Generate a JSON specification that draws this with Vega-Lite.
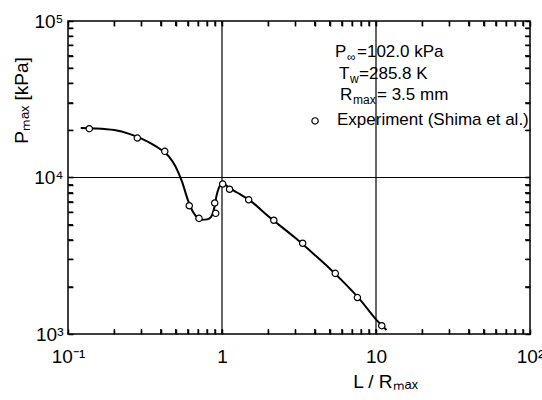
{
  "$schema": "https://vega.github.io/schema/vega-lite/v6.json",
  "width": 462,
  "height": 313,
  "autosize": {"type": "none"},
  "padding": {"left": 68, "top": 21, "right": 12, "bottom": 66},
  "config": {
    "font": "Liberation Sans",
    "view": {"stroke": "black", "strokeWidth": 1.5},
    "axis": {
      "domain": false, "tickColor": "black", "tickWidth": 1.5, "tickSize": -5,
      "labelColor": "black", "labelFontSize": 19,
      "titleColor": "black", "titleFontSize": 19, "titleFontWeight": "normal",
      "labelOverlap": false, "labelFlush": false, "grid": false
    }
  },
  "datasets": {
    "curve": [
      {"x": 0.121, "y": 20700}, {"x": 0.15, "y": 20600}, {"x": 0.2, "y": 20100},
      {"x": 0.25, "y": 19000}, {"x": 0.3, "y": 17700}, {"x": 0.35, "y": 16400},
      {"x": 0.4, "y": 15100}, {"x": 0.45, "y": 13700}, {"x": 0.5, "y": 11700},
      {"x": 0.55, "y": 9400}, {"x": 0.6, "y": 7200}, {"x": 0.65, "y": 6000},
      {"x": 0.7, "y": 5500}, {"x": 0.75, "y": 5380}, {"x": 0.8, "y": 5400},
      {"x": 0.85, "y": 5600}, {"x": 0.88, "y": 6100}, {"x": 0.9, "y": 6700},
      {"x": 0.92, "y": 7600}, {"x": 0.95, "y": 8500}, {"x": 0.98, "y": 9000},
      {"x": 1.01, "y": 9200}, {"x": 1.1, "y": 8650}, {"x": 1.3, "y": 7850},
      {"x": 1.5, "y": 7200}, {"x": 2.0, "y": 5650}, {"x": 3.0, "y": 4100},
      {"x": 4.0, "y": 3200}, {"x": 5.0, "y": 2620}, {"x": 6.0, "y": 2200},
      {"x": 8.0, "y": 1630}, {"x": 10.0, "y": 1240}, {"x": 11.7, "y": 1060}
    ],
    "exp": [
      {"x": 0.1375, "y": 20500}, {"x": 0.282, "y": 17870}, {"x": 0.425, "y": 14700},
      {"x": 0.613, "y": 6600}, {"x": 0.709, "y": 5480}, {"x": 0.897, "y": 6870},
      {"x": 0.91, "y": 5900}, {"x": 1.01, "y": 9090}, {"x": 1.12, "y": 8410},
      {"x": 1.49, "y": 7210}, {"x": 2.17, "y": 5330}, {"x": 3.34, "y": 3800},
      {"x": 5.44, "y": 2440}, {"x": 7.57, "y": 1710}, {"x": 10.9, "y": 1130}
    ],
    "xt": [
      {"x": 0.2, "y": 1000}, {"x": 0.3, "y": 1000}, {"x": 0.4, "y": 1000}, {"x": 0.5, "y": 1000},
      {"x": 0.6, "y": 1000}, {"x": 0.7, "y": 1000}, {"x": 0.8, "y": 1000}, {"x": 0.9, "y": 1000},
      {"x": 1, "y": 1000}, {"x": 2, "y": 1000}, {"x": 3, "y": 1000}, {"x": 4, "y": 1000},
      {"x": 5, "y": 1000}, {"x": 6, "y": 1000}, {"x": 7, "y": 1000}, {"x": 8, "y": 1000},
      {"x": 9, "y": 1000}, {"x": 10, "y": 1000}, {"x": 20, "y": 1000}, {"x": 30, "y": 1000},
      {"x": 40, "y": 1000}, {"x": 50, "y": 1000}, {"x": 60, "y": 1000}, {"x": 70, "y": 1000},
      {"x": 80, "y": 1000}, {"x": 90, "y": 1000},
      {"x": 0.2, "y": 100000}, {"x": 0.3, "y": 100000}, {"x": 0.4, "y": 100000}, {"x": 0.5, "y": 100000},
      {"x": 0.6, "y": 100000}, {"x": 0.7, "y": 100000}, {"x": 0.8, "y": 100000}, {"x": 0.9, "y": 100000},
      {"x": 1, "y": 100000}, {"x": 2, "y": 100000}, {"x": 3, "y": 100000}, {"x": 4, "y": 100000},
      {"x": 5, "y": 100000}, {"x": 6, "y": 100000}, {"x": 7, "y": 100000}, {"x": 8, "y": 100000},
      {"x": 9, "y": 100000}, {"x": 10, "y": 100000}, {"x": 20, "y": 100000}, {"x": 30, "y": 100000},
      {"x": 40, "y": 100000}, {"x": 50, "y": 100000}, {"x": 60, "y": 100000}, {"x": 70, "y": 100000},
      {"x": 80, "y": 100000}, {"x": 90, "y": 100000}
    ],
    "yt": [
      {"x": 0.1, "y": 2000}, {"x": 0.1, "y": 3000}, {"x": 0.1, "y": 4000}, {"x": 0.1, "y": 5000},
      {"x": 0.1, "y": 6000}, {"x": 0.1, "y": 7000}, {"x": 0.1, "y": 8000}, {"x": 0.1, "y": 9000},
      {"x": 0.1, "y": 10000}, {"x": 0.1, "y": 20000}, {"x": 0.1, "y": 30000}, {"x": 0.1, "y": 40000},
      {"x": 0.1, "y": 50000}, {"x": 0.1, "y": 60000}, {"x": 0.1, "y": 70000}, {"x": 0.1, "y": 80000},
      {"x": 0.1, "y": 90000},
      {"x": 100, "y": 2000}, {"x": 100, "y": 3000}, {"x": 100, "y": 4000}, {"x": 100, "y": 5000},
      {"x": 100, "y": 6000}, {"x": 100, "y": 7000}, {"x": 100, "y": 8000}, {"x": 100, "y": 9000},
      {"x": 100, "y": 10000}, {"x": 100, "y": 20000}, {"x": 100, "y": 30000}, {"x": 100, "y": 40000},
      {"x": 100, "y": 50000}, {"x": 100, "y": 60000}, {"x": 100, "y": 70000}, {"x": 100, "y": 80000},
      {"x": 100, "y": 90000}
    ],
    "gridx": [{"gx": 1}, {"gx": 10}],
    "gridy": [{"gy": 10000}],
    "main": [
      {"x": 5.42, "y": 63000, "t": "P"},
      {"x": 7.53, "y": 63000, "t": "=102.0 kPa"},
      {"x": 5.75, "y": 45800, "t": "T"},
      {"x": 7.76, "y": 45800, "t": "=285.8 K"},
      {"x": 5.84, "y": 33600, "t": "R"},
      {"x": 10.15, "y": 33600, "t": "= 3.5 mm"},
      {"x": 5.58, "y": 23300, "t": "Experiment (Shima et al.)"}
    ],
    "sub": [
      {"x": 6.48, "y": 63000, "t": "∞"},
      {"x": 6.78, "y": 45800, "t": "w"},
      {"x": 7.09, "y": 33600, "t": "max"}
    ],
    "legpt": [{"x": 4.02, "y": 23000}]
  },
  "layer": [
    {
      "data": {"name": "exp"},
      "mark": {"type": "point", "opacity": 0},
      "encoding": {
        "x": {"field": "x", "type": "quantitative",
          "scale": {"type": "log", "domain": [0.1, 100], "nice": false},
          "axis": {
            "orient": "bottom", "tickSize": -5, "tickWidth": 1.5, "tickColor": "black",
            "values": [0.1,0.2,0.3,0.4,0.5,0.6,0.7,0.8,0.9,1,2,3,4,5,6,7,8,9,10,20,30,40,50,60,70,80,90,100],
            "labelExpr": "datum.value == 0.1 ? '10⁻¹' : datum.value == 1 ? '1' : datum.value == 10 ? '10' : datum.value == 100 ? '10²' : ''",
            "labelPadding": 18,
            "title": "L / Rₘₐₓ",
            "titleX": 317, "titleY": 47, "titleAlign": "center", "titleBaseline": "middle"
          }
        },
        "y": {"field": "y", "type": "quantitative",
          "scale": {"type": "log", "domain": [1000, 100000], "nice": false},
          "axis": {
            "orient": "left", "tickSize": -5, "tickWidth": 1.5, "tickColor": "black",
            "values": [1000,2000,3000,4000,5000,6000,7000,8000,9000,10000,20000,30000,40000,50000,60000,70000,80000,90000,100000],
            "labelExpr": "datum.value == 1000 ? '10³' : datum.value == 10000 ? '10⁴' : datum.value == 100000 ? '10⁵' : ''",
            "labelPadding": 10,
            "title": "Pₘₐₓ  [kPa]",
            "titleAngle": -90, "titleX": -47, "titleY": 79, "titleAlign": "center", "titleBaseline": "middle"
          }
        }
      }
    },
    {
      "data": {"name": "exp"},
      "mark": {"type": "point", "opacity": 0},
      "encoding": {
        "x": {"field": "x", "type": "quantitative", "scale": {"type": "log", "domain": [0.1, 100], "nice": false},
          "axis": {"orient": "top", "labels": false, "title": null, "tickSize": -5, "tickWidth": 1.5, "tickColor": "black",
            "values": [0.1,0.2,0.3,0.4,0.5,0.6,0.7,0.8,0.9,1,2,3,4,5,6,7,8,9,10,20,30,40,50,60,70,80,90,100]}},
        "y": {"field": "y", "type": "quantitative", "scale": {"type": "log", "domain": [1000, 100000], "nice": false},
          "axis": {"orient": "right", "labels": false, "title": null, "tickSize": -5, "tickWidth": 1.5, "tickColor": "black",
            "values": [1000,2000,3000,4000,5000,6000,7000,8000,9000,10000,20000,30000,40000,50000,60000,70000,80000,90000,100000]}}
      }
    },
    {
      "data": {"name": "xt"},
      "mark": {"type": "tick", "orient": "vertical", "size": 10, "thickness": 1.2, "color": "black", "opacity": 1, "clip": true},
      "encoding": {
        "x": {"field": "x", "type": "quantitative", "scale": {"type": "log", "domain": [0.1, 100], "nice": false}, "axis": null},
        "y": {"field": "y", "type": "quantitative", "scale": {"type": "log", "domain": [1000, 100000], "nice": false}, "axis": null}
      }
    },
    {
      "data": {"name": "yt"},
      "mark": {"type": "tick", "orient": "horizontal", "size": 10, "thickness": 1.2, "color": "black", "opacity": 1, "clip": true},
      "encoding": {
        "x": {"field": "x", "type": "quantitative", "scale": {"type": "log", "domain": [0.1, 100], "nice": false}, "axis": null},
        "y": {"field": "y", "type": "quantitative", "scale": {"type": "log", "domain": [1000, 100000], "nice": false}, "axis": null}
      }
    },
    {
      "data": {"name": "gridx"},
      "mark": {"type": "rule", "color": "black", "strokeWidth": 1.2},
      "encoding": {
        "x": {"field": "gx", "type": "quantitative", "scale": {"type": "log", "domain": [0.1, 100], "nice": false}, "axis": null}
      }
    },
    {
      "data": {"name": "gridy"},
      "mark": {"type": "rule", "color": "black", "strokeWidth": 1.2},
      "encoding": {
        "y": {"field": "gy", "type": "quantitative", "scale": {"type": "log", "domain": [1000, 100000], "nice": false}, "axis": null}
      }
    },
    {
      "data": {"name": "curve"},
      "mark": {"type": "line", "color": "black", "strokeWidth": 2, "interpolate": "monotone"},
      "encoding": {
        "x": {"field": "x", "type": "quantitative", "scale": {"type": "log", "domain": [0.1, 100], "nice": false}, "axis": null},
        "y": {"field": "y", "type": "quantitative", "scale": {"type": "log", "domain": [1000, 100000], "nice": false}, "axis": null}
      }
    },
    {
      "data": {"name": "exp"},
      "mark": {"type": "point", "shape": "circle", "filled": true, "fill": "white", "stroke": "black", "strokeWidth": 1.2, "size": 40, "opacity": 1},
      "encoding": {
        "x": {"field": "x", "type": "quantitative", "scale": {"type": "log", "domain": [0.1, 100], "nice": false}, "axis": null},
        "y": {"field": "y", "type": "quantitative", "scale": {"type": "log", "domain": [1000, 100000], "nice": false}, "axis": null}
      }
    },
    {
      "data": {"name": "legpt"},
      "mark": {"type": "point", "shape": "circle", "filled": true, "fill": "white", "stroke": "black", "strokeWidth": 1.2, "size": 40, "opacity": 1},
      "encoding": {
        "x": {"field": "x", "type": "quantitative", "scale": {"type": "log", "domain": [0.1, 100], "nice": false}, "axis": null},
        "y": {"field": "y", "type": "quantitative", "scale": {"type": "log", "domain": [1000, 100000], "nice": false}, "axis": null}
      }
    },
    {
      "data": {"name": "main"},
      "mark": {"type": "text", "align": "left", "baseline": "middle", "fontSize": 17, "color": "black", "font": "Liberation Sans"},
      "encoding": {
        "x": {"field": "x", "type": "quantitative", "scale": {"type": "log", "domain": [0.1, 100], "nice": false}, "axis": null},
        "y": {"field": "y", "type": "quantitative", "scale": {"type": "log", "domain": [1000, 100000], "nice": false}, "axis": null},
        "text": {"field": "t"}
      }
    },
    {
      "data": {"name": "sub"},
      "mark": {"type": "text", "align": "left", "baseline": "middle", "fontSize": 12, "dy": 5, "color": "black", "font": "Liberation Sans"},
      "encoding": {
        "x": {"field": "x", "type": "quantitative", "scale": {"type": "log", "domain": [0.1, 100], "nice": false}, "axis": null},
        "y": {"field": "y", "type": "quantitative", "scale": {"type": "log", "domain": [1000, 100000], "nice": false}, "axis": null},
        "text": {"field": "t"}
      }
    }
  ],
  "resolve": {"axis": {"x": "independent", "y": "independent"}}
}
